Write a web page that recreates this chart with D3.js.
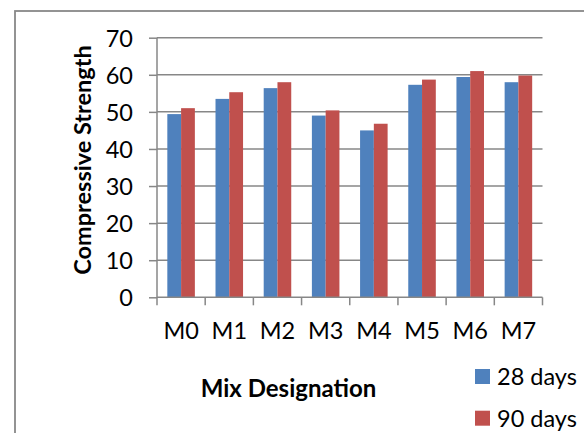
<!DOCTYPE html>
<html><head><meta charset="utf-8">
<script src="https://cdn.jsdelivr.net/npm/d3@7"></script>
<style>body{margin:0;background:#fff}svg{display:block}text{font-family:Lato,"Open Sans",sans-serif;fill:#000}</style>
</head><body><svg id="c" width="584" height="433"></svg>
<script>
const categories = ["M0","M1","M2","M3","M4","M5","M6","M7"];
const seriesNames = ["28 days","90 days"];
const days28 = [49.4,53.5,56.4,49.0,45.0,57.3,59.4,58.0];
const days90 = [51.0,55.3,58.0,50.4,46.8,58.7,61.0,59.8];
const yTicks = [0,10,20,30,40,50,60,70];
const colors = ["#4F81BD","#C0504D"];

const svg = d3.select("#c");
// outer frame
svg.append("rect").attr("x",15).attr("y",11).attr("width",620).attr("height",460)
  .attr("fill","none").attr("stroke","#888").attr("stroke-width",1.8);

const L=157, R=542.5, T=37.7, B=297.3;
const x = d3.scaleBand().domain(categories).range([L,R]).paddingInner(0).paddingOuter(0);
const y = d3.scaleLinear().domain([0,70]).range([B,T]);
const x1 = d3.scaleBand().domain(seriesNames).range([0,x.bandwidth()]).paddingInner(0).paddingOuter(0.75);
// gridlines
svg.append("g").selectAll("line").data(yTicks.filter(d=>d>0)).join("line")
  .attr("x1",L).attr("x2",R).attr("y1",d=>y(d)).attr("y2",d=>y(d))
  .attr("stroke","#878787").attr("stroke-width",1.5);

const data = categories.map((c,i)=>({c, v:[days28[i],days90[i]]}));
const g = svg.append("g").selectAll("g").data(data).join("g")
  .attr("transform",d=>`translate(${x(d.c)},0)`);
g.selectAll("rect").data(d=>d.v.map((v,j)=>({v,s:seriesNames[j],j}))).join("rect")
  .attr("x",d=>x1(d.s)).attr("width",x1.bandwidth())
  .attr("y",d=>y(d.v)).attr("height",d=>y(0)-y(d.v))
  .attr("fill",d=>colors[d.j]);

// y axis
const ya = svg.append("g").attr("transform",`translate(${L},0)`)
  .call(d3.axisLeft(y).tickValues(yTicks).tickSize(8).tickPadding(16));
ya.select(".domain").attr("stroke","#878787").attr("stroke-width",1.5).attr("d",`M0,${B}V${T}`);
ya.selectAll(".tick line").attr("stroke","#878787").attr("stroke-width",1.5);
ya.selectAll(".tick text").attr("font-size",23.5).attr("font-family","Lato").attr("fill","#000").attr("dy","0.36em");

// x axis
const xa = svg.append("g").attr("transform",`translate(0,${B})`)
  .call(d3.axisBottom(x).tickSize(0).tickPadding(0));
xa.select(".domain").attr("stroke","#878787").attr("stroke-width",1.5).attr("d",`M${L},0H${R}`);
xa.selectAll(".tick text").attr("font-size",23.5).attr("font-family","Lato").attr("fill","#000")
  .attr("y",42).attr("dy",0);
// boundary ticks
const bounds = categories.map(c=>x(c)).concat([R]);
svg.append("g").selectAll("line").data(bounds).join("line")
  .attr("x1",d=>d).attr("x2",d=>d).attr("y1",B).attr("y2",B+8)
  .attr("stroke","#878787").attr("stroke-width",1.5);

// axis titles
svg.append("text").attr("x",288.5).attr("y",397).attr("text-anchor","middle")
  .attr("font-size",24).attr("font-weight","bold").text("Mix Designation");
svg.append("text").attr("transform",`translate(91,160) rotate(-90)`).attr("text-anchor","middle")
  .attr("font-size",23.5).attr("font-weight","bold").text("Compressive Strength");

// legend
const lg = svg.append("g").selectAll("g").data(seriesNames).join("g")
  .attr("transform",(d,i)=>`translate(475,${369+i*41.7})`);
lg.append("rect").attr("width",15).attr("height",15).attr("fill",(d,i)=>colors[i]);
lg.append("text").attr("x",22).attr("y",16).attr("font-size",23.5).text(d=>d);
</script></body></html>
